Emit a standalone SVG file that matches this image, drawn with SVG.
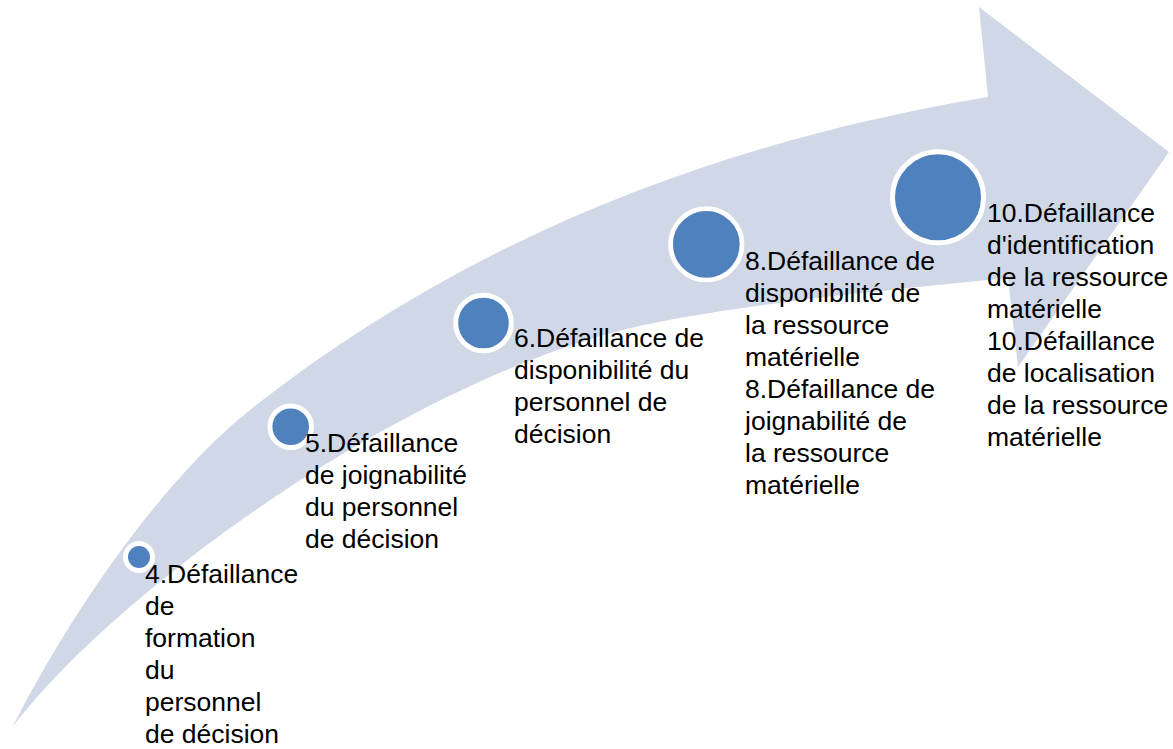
<svg xmlns="http://www.w3.org/2000/svg" width="1173" height="749" viewBox="0 0 1173 749">
<style>
.arrow{fill:#D0D8E8;stroke:none}
.dot{fill:#4F81BD;stroke:#FFFFFF}
.lbl{font-family:"Liberation Sans",Arial,sans-serif;font-size:26.5px;fill:#000000}
</style>
<rect x="0" y="0" width="1173" height="749" fill="#FFFFFF"/>
<g id="arrow">
<path class="arrow" d="M 12,728 C 70.5,612 164,478 250,410 C 453,249 700,145 988,97 L 979,7 L 1169,152 L 1018,367 L 1008,278 C 908,288 696,307 600,336 C 360,408.5 102,608 12,728 Z"/>
</g>
<g id="connectors"></g>
<g id="node4">
<circle class="dot" cx="139" cy="557" r="13.5" stroke-width="5"/>
<text class="lbl" x="145"><tspan x="145" y="583">4.Défaillance</tspan><tspan x="145" y="615">de</tspan><tspan x="145" y="647">formation</tspan><tspan x="145" y="679">du</tspan><tspan x="145" y="711">personnel</tspan><tspan x="145" y="743">de décision</tspan></text>
</g>
<g id="node5">
<circle class="dot" cx="290.7" cy="426.7" r="20.8" stroke-width="5"/>
<text class="lbl"><tspan x="305" y="451.5">5.Défaillance</tspan><tspan x="305" y="483.5">de joignabilité</tspan><tspan x="305" y="515.5">du personnel</tspan><tspan x="305" y="547.5">de décision</tspan></text>
</g>
<g id="node6">
<circle class="dot" cx="483.5" cy="323" r="27.8" stroke-width="5"/>
<text class="lbl"><tspan x="514" y="347">6.Défaillance de</tspan><tspan x="514" y="379">disponibilité du</tspan><tspan x="514" y="411">personnel de</tspan><tspan x="514" y="443">décision</tspan></text>
</g>
<g id="node8">
<circle class="dot" cx="706.3" cy="244.3" r="35.7" stroke-width="4.7"/>
<text class="lbl"><tspan x="745" y="270">8.Défaillance de</tspan><tspan x="745" y="302">disponibilité de</tspan><tspan x="745" y="334">la ressource</tspan><tspan x="745" y="366">matérielle</tspan><tspan x="745" y="398">8.Défaillance de</tspan><tspan x="745" y="430">joignabilité de</tspan><tspan x="745" y="462">la ressource</tspan><tspan x="745" y="494">matérielle</tspan></text>
</g>
<g id="node10">
<circle class="dot" cx="938" cy="197.3" r="45.5" stroke-width="5"/>
<text class="lbl"><tspan x="987" y="222">10.Défaillance</tspan><tspan x="987" y="254">d'identification</tspan><tspan x="987" y="286">de la ressource</tspan><tspan x="987" y="318">matérielle</tspan><tspan x="987" y="350">10.Défaillance</tspan><tspan x="987" y="382">de localisation</tspan><tspan x="987" y="414">de la ressource</tspan><tspan x="987" y="446">matérielle</tspan></text>
</g>
</svg>
